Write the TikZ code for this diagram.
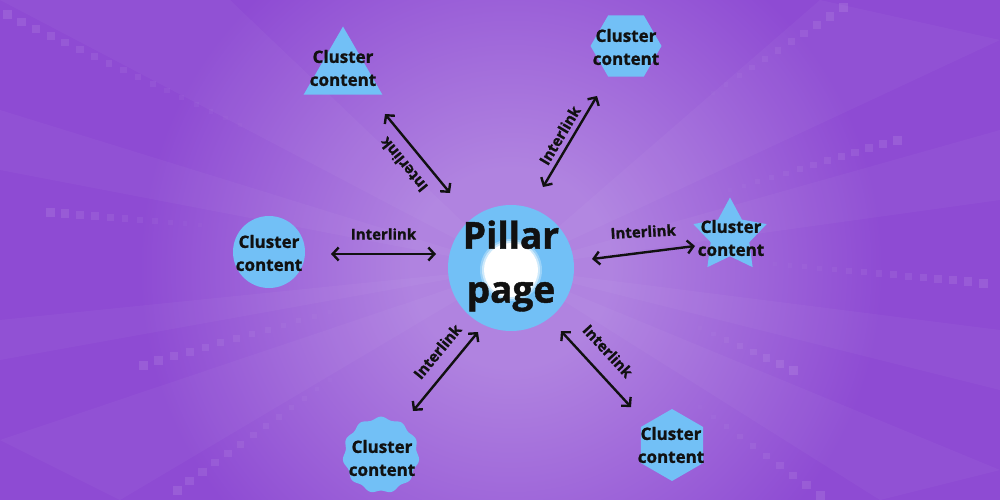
\documentclass[tikz,border=0pt]{standalone}
\usepackage{fontspec}
\setmainfont{Open Sans}[BoldFeatures={FakeBold=1.2}]
\usetikzlibrary{arrows.meta, shapes.geometric, calc}

\definecolor{bgpurple}{HTML}{8E4BD3}
\definecolor{bglight}{HTML}{B083E0}
\definecolor{bgedge}{HTML}{B59DE8}
\definecolor{clusterblue}{HTML}{72C0F6}
\definecolor{textblack}{HTML}{111111}

\pgfdeclareradialshading{bgglow}{\pgfpoint{0bp}{0bp}}{%
  color(0bp)=(bglight); color(4bp)=(bglight); color(15bp)=(bgpurple);
  color(30bp)=(bgpurple); color(47bp)=(bgedge); color(50bp)=(bgedge)}

\begin{document}
\begin{tikzpicture}[
    x=1pt, y=-1pt,
    cluster/.style={fill=clusterblue, inner sep=0pt, outer sep=0pt},
    clustertext/.style={font=\bfseries\fontsize{17}{23}\selectfont, align=center, text=textblack},
    link/.style={{Straight Barb[length=6pt, width=13pt]}-{Straight Barb[length=6pt, width=13pt]}, line width=2.4pt, textblack},
    linklabel/.style={font=\bfseries\fontsize{15}{18}\selectfont, inner sep=0pt, text=textblack},
    ray/.style={fill=white, opacity=0.035}
]

    % Background
    \useasboundingbox (0,0) rectangle (1000,500);
    \begin{scope}
        \clip (0,0) rectangle (1000,500);
        \shade[shading=bgglow] (511,268) circle (620);
        \foreach \ax/\ay/\bx/\by in {0/0/230/0, 0/110/0/170, 0/320/0/360, 0/440/120/500,
                                     820/0/1000/40, 1000/130/1000/200, 1000/330/1000/390, 1000/470/880/500}
            \fill[ray] (511,268) -- (\ax,\ay) -- (\bx,\by) -- cycle;
    \end{scope}

    % Dotted tiles
    \foreach \sx/\sy/\ex/\ey/\n in {7/15/240/125/16, 50/212/200/225/10, 143/365/330/312/12, 177/490/330/380/12,
                                    843/8/713/93/10, 897/140/730/190/12, 983/283/775/264/14, 793/370/700/328/7,
                                    820/495/700/407/9} {
        \foreach \i in {0,...,\n} {
            \pgfmathsetmacro\t{\i/\n}
            \pgfmathsetmacro\s{9-5*\t}
            \pgfmathsetmacro\o{0.10-0.08*\t}
            \fill[white, opacity=\o] ($(\sx,\sy)!\t!(\ex,\ey)$) ++(-\s/2,-\s/2) rectangle ++(\s,\s);
        }
    }

    % Pillar page
    \node[cluster, circle, minimum size=126pt] (pillar) at (511,268) {};
    \fill[white, opacity=0.3] (511,270) circle (31);
    \fill[white, opacity=0.5] (511,270) circle (29);
    \fill[white] (511,270) circle (27);
    \node[font=\bfseries\fontsize{37}{54}\selectfont, align=center, text=textblack] (pillar-text) at (511,266) {Pillar\\page};

    % Cluster shapes
    \node[cluster, regular polygon, regular polygon sides=3, minimum size=91pt] (tri) at (343,72) {};
    \node[cluster, regular polygon, regular polygon sides=6, minimum size=71pt] (hex-top) at (626,46) {};
    \node[cluster, circle, minimum size=72pt] (circ) at (269,252) {};
    \node[cluster, star, star points=5, star point ratio=1.9, minimum size=77pt] (star) at (730,236) {};
    \coordinate (blob) at (381,455);
    \fill[clusterblue] plot[domain=0:360, samples=121]
        ({381+(37+1.4*sin(11*\x))*cos(\x)}, {455+(37+1.4*sin(11*\x))*sin(\x)}) -- cycle;
    \node[cluster, regular polygon, regular polygon sides=6, shape border rotate=30, minimum size=72pt] (hex-bot) at (672,445) {};

    % Cluster texts
    \node[clustertext] (tri-text) at (343,68) {Cluster\\content};
    \node[clustertext] (hex-top-text) at (626,47) {Cluster\\content};
    \node[clustertext] (circ-text) at (269,253) {Cluster\\content};
    \node[clustertext] (star-text) at (731,238) {Cluster\\content};
    \node[clustertext] (blob-text) at (382,458) {Cluster\\content};
    \node[clustertext] (hex-bot-text) at (671,445) {Cluster\\content};

    % Arrow ends
    \coordinate (tl-in) at (450,193);  \coordinate (tl-out) at (385,114);
    \coordinate (tr-in) at (543,187);  \coordinate (tr-out) at (597,96);
    \coordinate (l-in) at (436,254);   \coordinate (l-out) at (331,254);
    \coordinate (r-in) at (592,259);   \coordinate (r-out) at (695,246);
    \coordinate (bl-in) at (478,332);  \coordinate (bl-out) at (413,411);
    \coordinate (br-in) at (561,331);  \coordinate (br-out) at (631,407);

    % Interlinks
    \draw[link] (tl-in) -- (tl-out) node[linklabel, midway, sloped, allow upside down, above=11pt] {Interlink};
    \draw[link] (tr-in) -- (tr-out) node[linklabel, midway, sloped, above=5pt] {Interlink};
    \draw[link] (l-out) -- (l-in) node[linklabel, midway, above=13pt] {Interlink};
    \draw[link] (r-in) -- (r-out) node[linklabel, midway, above=14pt, rotate=3] {Interlink};
    \draw[link] (bl-out) -- (bl-in) node[linklabel, pos=0.6, sloped, above=12pt] {Interlink};
    \draw[link] (br-in) -- (br-out) node[linklabel, pos=0.45, sloped, above=14pt] {Interlink};

\end{tikzpicture}
\end{document}
